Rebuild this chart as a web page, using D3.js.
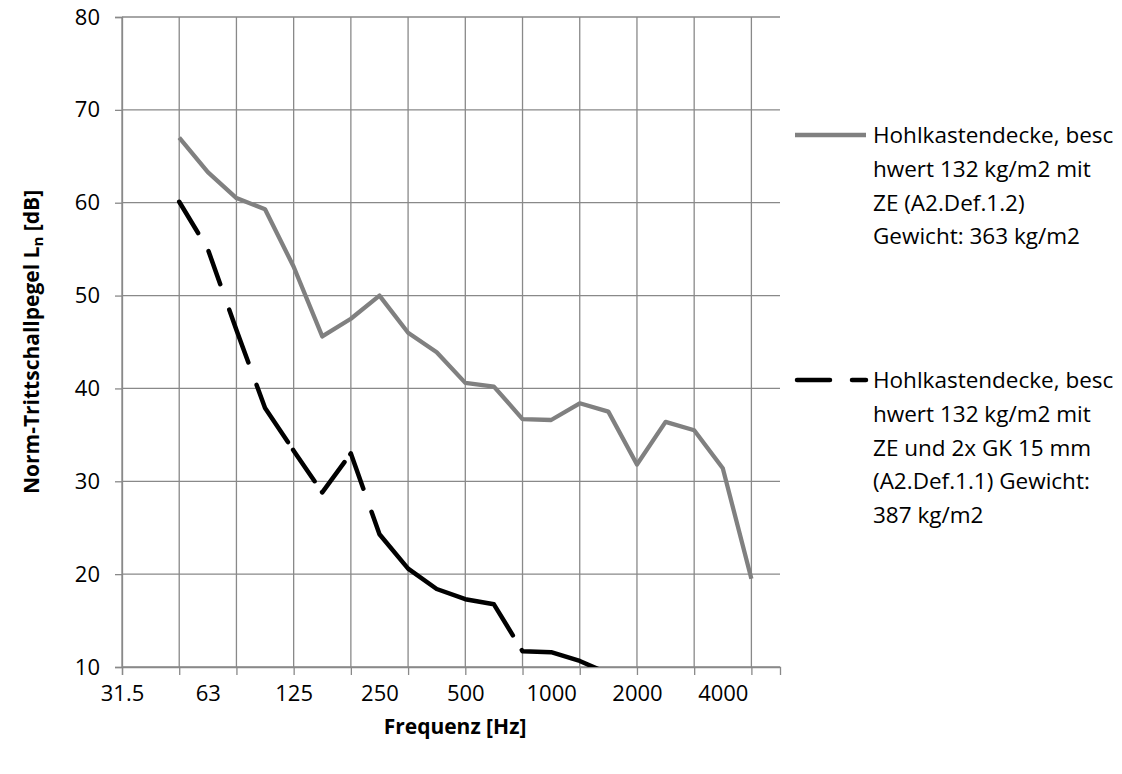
<!DOCTYPE html>
<html>
<head>
<meta charset="utf-8">
<script src="https://cdn.jsdelivr.net/npm/d3@7"></script>
<style>
  body { margin: 0; background: #fff; }
  svg { font-family: "Open Sans", sans-serif; }
</style>
</head>
<body>
<div id="chart"></div>
<script>
// third-octave bands (category axis)
const bands = ['31.5','40','50','63','80','100','125','160','200','250','315','400',
  '500','630','800','1000','1250','1600','2000','2500','3150','4000','5000','6300'];
const labelBands = ['31.5','63','125','250','500','1000','2000','4000'];
const gridBands = bands.filter((d, i) => i % 2 === 0);
const yTicks = [10, 20, 30, 40, 50, 60, 70, 80];

// Norm-Trittschallpegel Ln [dB], null = no value
const ln_ze = [null, null, 67.0, 63.3, 60.5, 59.3, 53.1, 45.6, 47.5, 50.0, 46.0, 43.9,
  40.6, 40.2, 36.7, 36.6, 38.4, 37.5, 31.8, 36.4, 35.5, 31.4, 19.5, null];
const ln_ze_gk = [null, null, 60.1, 55.0, 46.3, 37.9, 33.3, 28.8, 33.0, 24.3, 20.6, 18.4,
  17.3, 16.75, 11.7, 11.6, 10.65, 9.3, null, null, null, null, null, null];

const legend1 = ['Hohlkastendecke, besc', 'hwert 132 kg/m2 mit', 'ZE (A2.Def.1.2)', 'Gewicht: 363 kg/m2'];
const legend2 = ['Hohlkastendecke, besc', 'hwert 132 kg/m2 mit', 'ZE und 2x GK 15 mm', '(A2.Def.1.1) Gewicht:', '387 kg/m2'];

const W = 1122, H = 774;
const margin = {top: 17, left: 122, right: 342, bottom: 107};
const width = W - margin.left - margin.right,
      height = H - margin.top - margin.bottom;

const gridColor = '#898989';
const fontSize = 22;

const svg = d3.select('#chart').append('svg')
    .attr('width', W)
    .attr('height', H);

const g = svg.append('g')
    .attr('transform', 'translate(' + margin.left + ',' + margin.top + ')');

const x = d3.scalePoint()
    .domain(bands)
    .range([0, width]);

const y = d3.scaleLinear()
    .domain([10, 80])
    .range([height, 0]);

// horizontal grid
g.append('g')
    .selectAll('line')
    .data(yTicks)
    .join('line')
    .attr('x1', 0).attr('x2', width)
    .attr('y1', d => y(d)).attr('y2', d => y(d))
    .attr('stroke', gridColor)
    .attr('stroke-width', 1.3);

// vertical grid
g.append('g')
    .selectAll('line')
    .data(gridBands)
    .join('line')
    .attr('x1', d => x(d)).attr('x2', d => x(d))
    .attr('y1', 0).attr('y2', height)
    .attr('stroke', gridColor)
    .attr('stroke-width', 1.3);

// y axis
const yAxis = g.append('g')
    .call(d3.axisLeft(y).tickValues(yTicks).tickSize(7).tickPadding(15));
yAxis.select('.domain').attr('stroke', gridColor).attr('stroke-width', 1.3);
yAxis.selectAll('.tick line').attr('stroke', gridColor).attr('stroke-width', 1.3);
yAxis.selectAll('text')
    .attr('font-size', fontSize)
    .attr('font-family', '"Open Sans", sans-serif')
    .attr('fill', '#000');

// x axis: tick marks every 2nd band
const xTickAxis = g.append('g')
    .attr('transform', 'translate(0,' + height + ')')
    .call(d3.axisBottom(x).tickValues(gridBands).tickSize(8).tickFormat(''));
xTickAxis.select('.domain').attr('stroke', gridColor).attr('stroke-width', 1.3);
xTickAxis.selectAll('.tick line').attr('stroke', gridColor).attr('stroke-width', 1.3);

// x axis labels every 3rd band
const xLabelAxis = g.append('g')
    .attr('transform', 'translate(0,' + height + ')')
    .call(d3.axisBottom(x).tickValues(labelBands).tickSize(0).tickPadding(18));
xLabelAxis.select('.domain').remove();
xLabelAxis.selectAll('text')
    .attr('font-size', fontSize)
    .attr('font-family', '"Open Sans", sans-serif')
    .attr('fill', '#000');

// clip to plot area
svg.append('clipPath')
    .attr('id', 'clip')
    .append('rect')
    .attr('width', width + 10)
    .attr('height', height)
    .attr('y', 0)
    .attr('x', -5);

const line = d3.line()
    .defined(d => d.v != null)
    .x(d => x(d.band))
    .y(d => y(d.v));

const toPts = arr => bands.map((b, i) => ({band: b, v: arr[i]}));

g.append('path')
    .attr('clip-path', 'url(#clip)')
    .attr('d', line(toPts(ln_ze)))
    .attr('fill', 'none')
    .attr('stroke', '#808080')
    .attr('stroke-width', 4.3)
    .attr('stroke-linejoin', 'round');

// dash pattern as rendered in the original (long dashes, uneven gaps)
const blackDash = '36.5 21 35 27 56.2 23.9 65.6 9.3 38.1 13.2 37.9 10 38.2 24.5 199.5 17.2 400 10';
g.append('path')
    .attr('clip-path', 'url(#clip)')
    .attr('d', line(toPts(ln_ze_gk)))
    .attr('fill', 'none')
    .attr('stroke', '#000')
    .attr('stroke-width', 4.5)
    .attr('stroke-linejoin', 'round')
    .attr('stroke-linecap', 'round')
    .attr('stroke-dasharray', blackDash);

// axis titles
svg.append('text')
    .attr('x', 455)
    .attr('y', 734)
    .attr('text-anchor', 'middle')
    .attr('font-weight', 'bold')
    .attr('font-size', 21)
    .text('Frequenz [Hz]');

const yTitle = svg.append('text')
    .attr('transform', 'translate(39,' + (margin.top + height / 2) + ') rotate(-90)')
    .attr('text-anchor', 'middle')
    .attr('font-weight', 'bold')
    .attr('font-size', 21);
yTitle.append('tspan').text('Norm-Trittschallpegel L');
yTitle.append('tspan').attr('font-size', 15).attr('dy', 4).text('n');
yTitle.append('tspan').attr('dy', -4).text(' [dB]');

// legend
const legendX = 795, textX = 873, lineH = 33.8;

function legendItem(yPos, lines, stroke, dash) {
    svg.append('line')
        .attr('x1', legendX + (dash ? 2 : 0)).attr('x2', 866)
        .attr('y1', yPos).attr('y2', yPos)
        .attr('stroke', stroke)
        .attr('stroke-width', 4.5)
        .attr('stroke-linecap', dash ? 'round' : 'butt')
        .attr('stroke-dasharray', dash);
    svg.append('text')
        .attr('x', textX)
        .attr('y', yPos + 8)
        .attr('font-size', 22.5)
        .selectAll('tspan')
        .data(lines)
        .join('tspan')
        .attr('x', textX)
        .attr('dy', (d, i) => i === 0 ? 0 : lineH)
        .text(d => d);
}

legendItem(135, legend1, '#808080', null);
legendItem(380, legend2, '#000', '33 22');
</script>
</body>
</html>
